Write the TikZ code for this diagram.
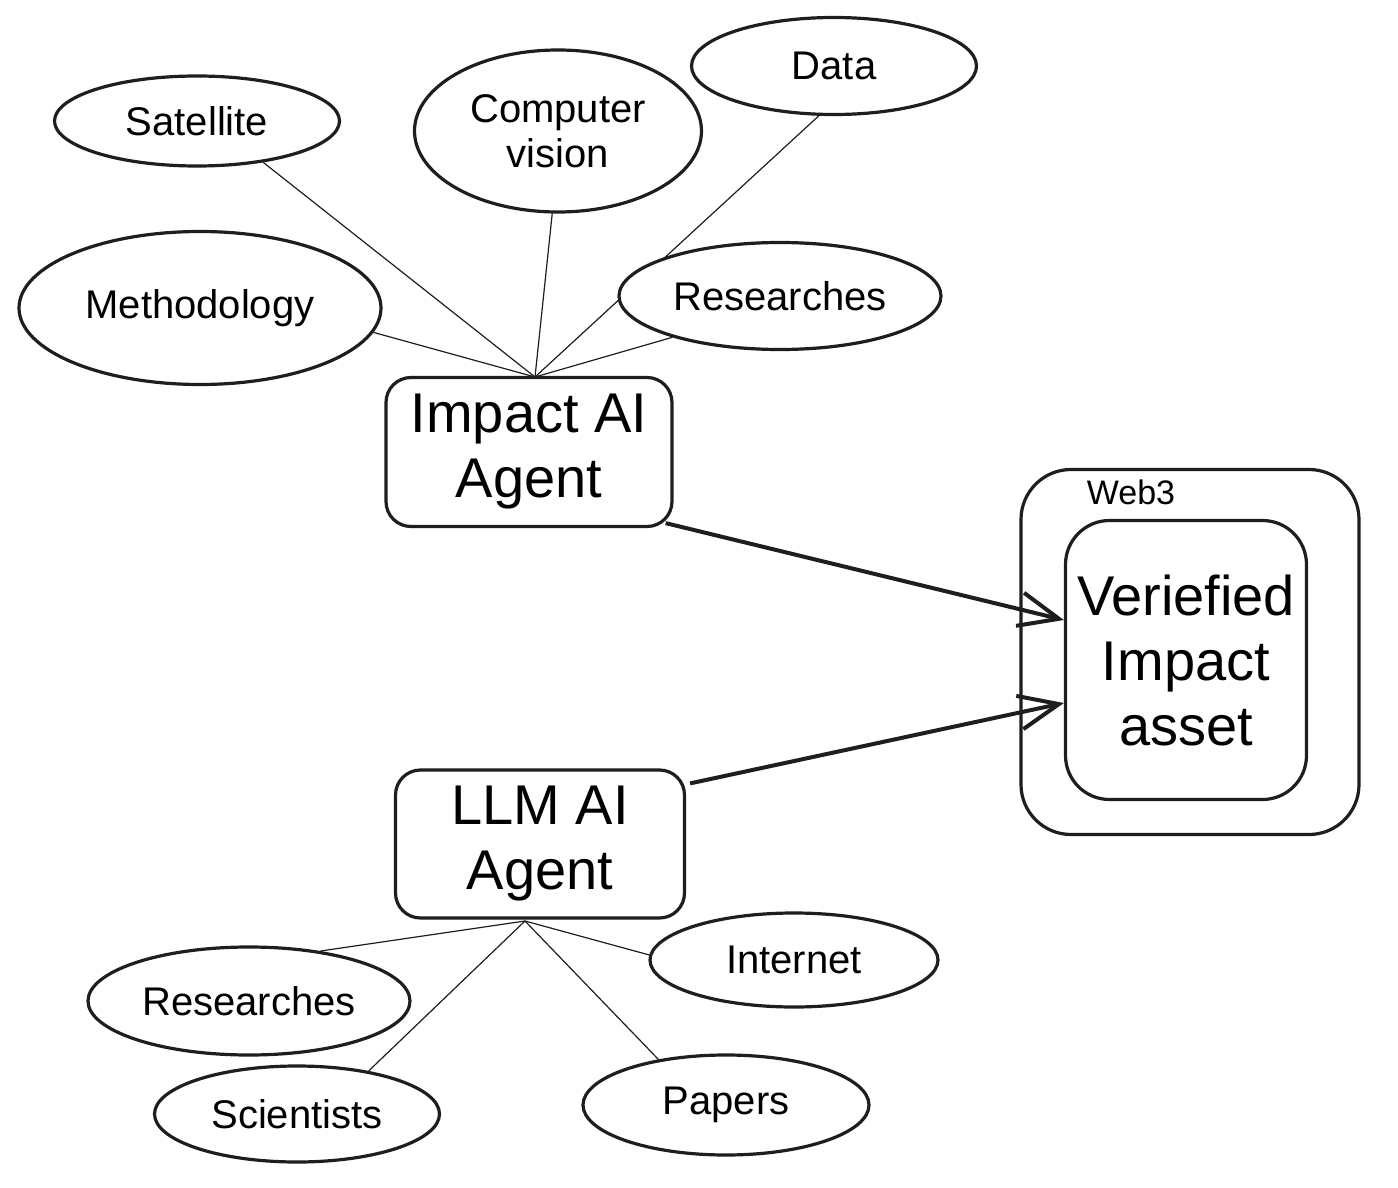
\documentclass[tikz,border=0pt]{standalone}
\usepackage{fontspec}
\setmainfont{Liberation Sans}
\usetikzlibrary{shapes.geometric,arrows.meta,backgrounds}
\definecolor{ink}{HTML}{1E1E1E}
\tikzset{
  bubble/.style={ellipse, draw=ink, line width=1.6pt, fill=white, inner sep=0pt, align=center, font=\fontsize{20}{22.5}\selectfont},
  agent/.style={rectangle, rounded corners=12.5pt, draw=ink, line width=1.6pt, fill=white, inner sep=0pt, align=center, font=\fontsize{28}{32.5}\selectfont},
  link/.style={draw=ink, line width=0.6pt},
  flow/.style={draw=ink, line width=2pt, -{Straight Barb[length=20pt,width=17pt]}}
}

\begin{document}
\begin{tikzpicture}[x=0.5pt, y=-0.5pt]
\useasboundingbox (0,0) rectangle (1398,1188);
\node [bubble, minimum width=142.5pt, minimum height=45pt] (sat) at (197,121) {Satellite};
\node [bubble, minimum width=143.5pt, minimum height=81pt] (cv) at (558,131) {Computer\\vision};
\node [bubble, minimum width=142.5pt, minimum height=48.5pt] (data) at (834,66) {Data};
\node [bubble, minimum width=181pt, minimum height=76.5pt] (meth) at (200,308) {Methodology};
\node [bubble, minimum width=161pt, minimum height=53.5pt] (resT) at (780,296) {Researches};
\node [agent, minimum width=143pt, minimum height=74.5pt] (impact) at (529,452) {Impact AI\\Agent};
\node [agent, minimum width=144.5pt, minimum height=74pt] (llm) at (540,844) {LLM AI\\Agent};
\node [agent, rounded corners=25pt, minimum width=169pt, minimum height=182.5pt] (web) at (1190,652) {};
\node [font=\fontsize{17}{19}\selectfont, inner sep=0pt] (webL) at (1131,492) {Web3};
\node [agent, rounded corners=22pt, minimum width=120.5pt, minimum height=139.5pt] (veri) at (1186,660) {Veriefied\\Impact\\asset};
\node [bubble, minimum width=144pt, minimum height=47pt] (inet) at (794,960) {Internet};
\node [bubble, minimum width=161pt, minimum height=54pt] (resB) at (249,1001) {Researches};
\node [bubble, minimum width=142.5pt, minimum height=48pt] (sci) at (297,1114) {Scientists};
\node [bubble, minimum width=143pt, minimum height=50pt] (pap) at (726,1105) {Papers};
\coordinate (ia) at (535,377);
\coordinate (la) at (525,921);
\begin{scope}[on background layer]
\draw [link] (sat.328) -- (ia);
\draw [link] (cv.266) -- (ia);
\draw [link] (data.253) -- (ia);
\draw [link] (meth.352) -- (ia);
\draw [link] (resT.201) -- (ia);
\draw [link] (resB.35) -- (la);
\draw [link] (sci.31) -- (la);
\draw [link] (pap.146) -- (la);
\draw [link] (inet.178) -- (la);
\end{scope}
\draw [flow] ([shift={(-8,-5)}]impact.south east) -- ([yshift=20pt]veri.west);
\draw [flow] ([shift={(4,15)}]llm.north east) -- ([yshift=-21.5pt]veri.west);
\end{tikzpicture}
\end{document}
